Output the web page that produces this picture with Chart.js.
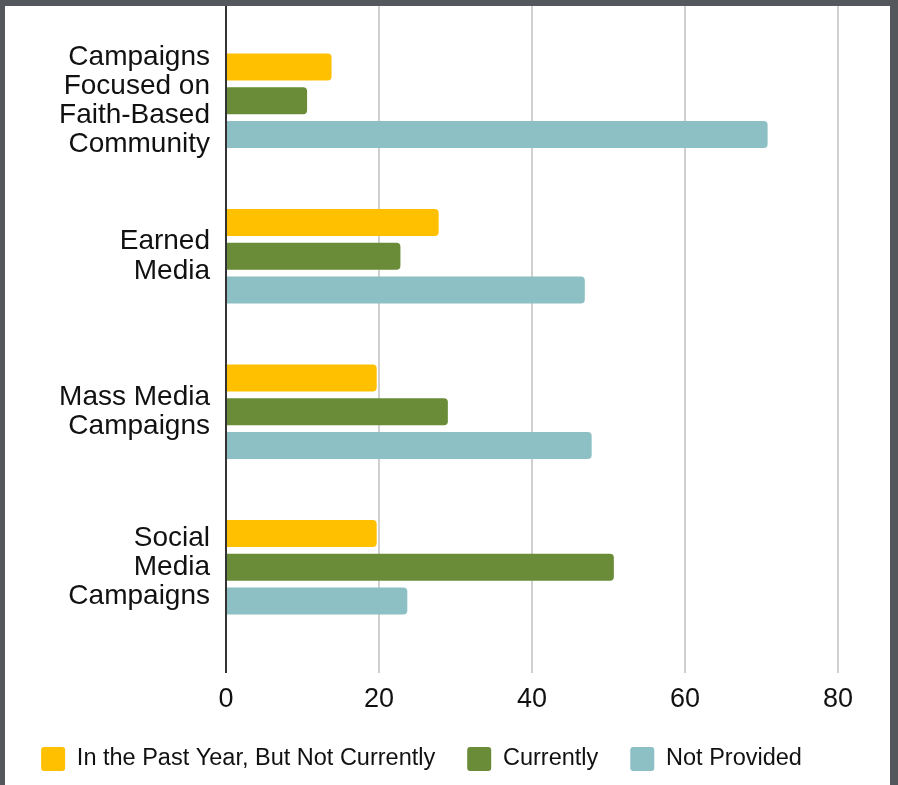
<!DOCTYPE html>
<html>
<head>
<meta charset="utf-8">
<script src="https://cdn.jsdelivr.net/npm/chart.js@4.4.1/dist/chart.umd.min.js"></script>
<style>
    html, body { margin: 0; padding: 0; background: #54585d; }
    #frame { position: absolute; left: 5px; top: 6px; width: 885px; height: 779px; background: #ffffff; }
</style>
</head>
<body>
<div id="frame"><canvas id="chart" width="885" height="779"></canvas></div>
<script>
// categorias e séries
const categories = [
    ['Campaigns', 'Focused on', 'Faith-Based', 'Community'],
    ['Earned', 'Media'],
    ['Mass Media', 'Campaigns'],
    ['Social', 'Media', 'Campaigns']
];
const seriesNames = ['In the Past Year, But Not Currently', 'Currently', 'Not Provided'];
const pastYear = [13.8, 27.8, 19.7, 19.7];
const currently = [10.6, 22.8, 29.0, 50.7];
const notProvided = [70.8, 46.9, 47.8, 23.7];
const xTicks = [0, 20, 40, 60, 80];

const colors = ['#ffc000', '#6a8c38', '#8cc0c4'];
const gridColor = ctx => (ctx.tick && ctx.tick.value === 0) ? '#333333' : '#d0d0d0';

// estende as linhas de grade até o topo do canvas
const gridToTop = {
    id: 'gridToTop',
    beforeDatasetsDraw(chart) {
        const ctx = chart.ctx;
        const x = chart.scales.x;
        ctx.save();
        ctx.lineWidth = 2;
        xTicks.forEach(v => {
            const px = Math.round(x.getPixelForValue(v));
            ctx.strokeStyle = v === 0 ? '#333333' : '#d0d0d0';
            ctx.beginPath();
            ctx.moveTo(px, 0);
            ctx.lineTo(px, chart.chartArea.top);
            ctx.stroke();
        });
        ctx.restore();
    }
};

Chart.defaults.font.family = '"Liberation Sans", Arial, sans-serif';
Chart.defaults.color = '#111111';

new Chart(document.getElementById('chart').getContext('2d'), {
    type: 'bar',
    data: {
        labels: categories,
        datasets: [pastYear, currently, notProvided].map((d, i) => ({
            label: seriesNames[i],
            data: d,
            backgroundColor: colors[i],
            borderRadius: 4,
            categoryPercentage: 0.65,
            barPercentage: 0.8
        }))
    },
    options: {
        indexAxis: 'y',
        responsive: false,
        animation: false,
        layout: { padding: { top: 17, right: 52, left: 0, bottom: 4 } },
        scales: {
            x: {
                min: 0,
                max: 80,
                afterBuildTicks: scale => { scale.ticks = xTicks.map(v => ({ value: v })); },
                afterFit: scale => { scale.height = 70; },
                grid: { color: gridColor, lineWidth: 2, tickLength: 28, tickColor: gridColor },
                border: { display: false },
                ticks: { font: { size: 27 }, padding: 10, color: '#111111' }
            },
            y: {
                afterFit: scale => {
                    scale.width = 221;
                    scale.paddingTop = 0;
                    scale.paddingBottom = 0;
                },
                grid: { display: false, drawTicks: false },
                border: { display: true, color: '#333333', width: 2 },
                ticks: { font: { size: 28, lineHeight: 1.04 }, padding: 16, color: '#111111' }
            }
        },
        plugins: {
            legend: {
                position: 'bottom',
                labels: {
                    font: { size: 23.5 },
                    boxWidth: 24,
                    boxHeight: 24,
                    padding: 32,
                    useBorderRadius: true,
                    borderRadius: 3,
                    color: '#111111'
                }
            },
            tooltip: { enabled: false }
        }
    },
    plugins: [gridToTop]
});
</script>
</body>
</html>
